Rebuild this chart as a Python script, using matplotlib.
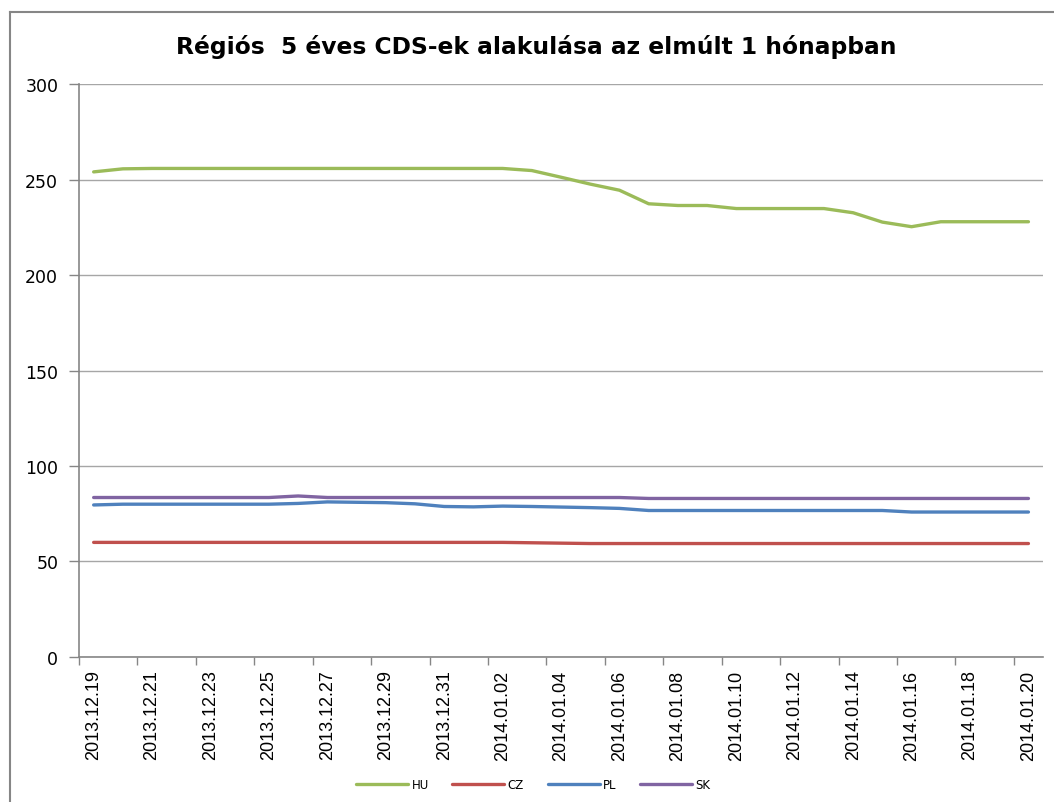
import matplotlib
matplotlib.use("Agg")
import matplotlib.pyplot as plt
import pandas as pd
from matplotlib.lines import Line2D

# categories: one per calendar day
dates = [d.strftime("%Y.%m.%d") for d in pd.date_range("2013-12-19", "2014-01-20", freq="D")]

hu = [254.0, 255.6, 255.8, 255.8, 255.8, 255.8, 255.8, 255.8, 255.8, 255.8,
      255.8, 255.8, 255.8, 255.8, 255.8, 254.7, 251.2, 247.6, 244.4, 237.3,
      236.4, 236.4, 234.8, 234.8, 234.8, 234.8, 232.6, 227.7, 225.3, 227.9,
      227.9, 227.9, 227.9]
cz = [60.0, 60.0, 60.0, 60.0, 60.0, 60.0, 60.0, 60.0, 60.0, 60.0,
      60.0, 60.0, 60.0, 60.0, 60.0, 59.8, 59.6, 59.4, 59.4, 59.4,
      59.4, 59.4, 59.4, 59.4, 59.4, 59.4, 59.4, 59.4, 59.4, 59.4,
      59.4, 59.4, 59.4]
pl = [79.6, 80.0, 80.0, 80.0, 80.0, 80.0, 80.0, 80.4, 81.2, 81.0,
      80.8, 80.2, 78.8, 78.6, 79.0, 78.8, 78.5, 78.2, 77.8, 76.7,
      76.7, 76.7, 76.7, 76.7, 76.7, 76.7, 76.7, 76.7, 75.9, 75.9,
      75.9, 75.9, 75.9]
sk = [83.5, 83.5, 83.5, 83.5, 83.5, 83.5, 83.5, 84.3, 83.5, 83.5,
      83.5, 83.5, 83.5, 83.5, 83.5, 83.5, 83.5, 83.5, 83.5, 83.0,
      83.0, 83.0, 83.0, 83.0, 83.0, 83.0, 83.0, 83.0, 83.0, 83.0,
      83.0, 83.0, 83.0]

series = [("HU", hu, "#9BBB59"), ("CZ", cz, "#C0504D"),
          ("PL", pl, "#4F81BD"), ("SK", sk, "#8064A2")]

title = "Régiós  5 éves CDS-ek alakulása az elmúlt 1 hónapban"

fig = plt.figure(figsize=(10.54, 8.03), dpi=100)
ax = fig.add_axes([0.075, 0.1806, 0.9146, 0.7135])

x = list(range(len(dates)))
for name, vals, color in series:
    ax.plot(x, vals, color=color, lw=2.4, solid_capstyle="round",
            solid_joinstyle="round", label=name, zorder=3)

ax.set_xlim(-0.5, len(dates) - 0.5)
ax.set_ylim(0, 300)
ax.set_yticks(range(0, 301, 50))
ax.yaxis.grid(True, color="#A6A6A6", lw=1)
ax.set_axisbelow(True)

# labels at every second category, tick marks at category boundaries
ax.set_xticks(x[::2])
ax.set_xticklabels(dates[::2], rotation=90, family="Liberation Sans", fontsize=13)
ax.set_xticks([i - 0.5 for i in x[::2]], minor=True)
ax.tick_params(axis="x", which="major", length=0, pad=9)
ax.tick_params(axis="x", which="minor", length=6, color="#868686", width=1)
ax.tick_params(axis="y", length=7, color="#868686", width=1, labelsize=12.5, pad=8)

for side in ("top", "right"):
    ax.spines[side].set_visible(False)
for side in ("left", "bottom"):
    ax.spines[side].set_color("#868686")
    ax.spines[side].set_linewidth(1.2)

fig.text(0.5085, 0.9415, title, ha="center", va="center",
         fontsize=16.8, fontweight="bold")

fig.legend(loc="center", bbox_to_anchor=(0.506, 0.022), ncol=4, frameon=False,
           fontsize=8.5, handlelength=4.4, columnspacing=2.0, handletextpad=0.3)

# chart area border (clipped at right and bottom like the source)
fig.add_artist(Line2D([10 / 1054, 1.0], [1 - 13 / 803] * 2, color="#868686", lw=1.5,
                      transform=fig.transFigure))
fig.add_artist(Line2D([10 / 1054] * 2, [0.0, 1 - 13 / 803], color="#868686", lw=1.5,
                      transform=fig.transFigure))

fig.savefig("out.png", dpi=100)
